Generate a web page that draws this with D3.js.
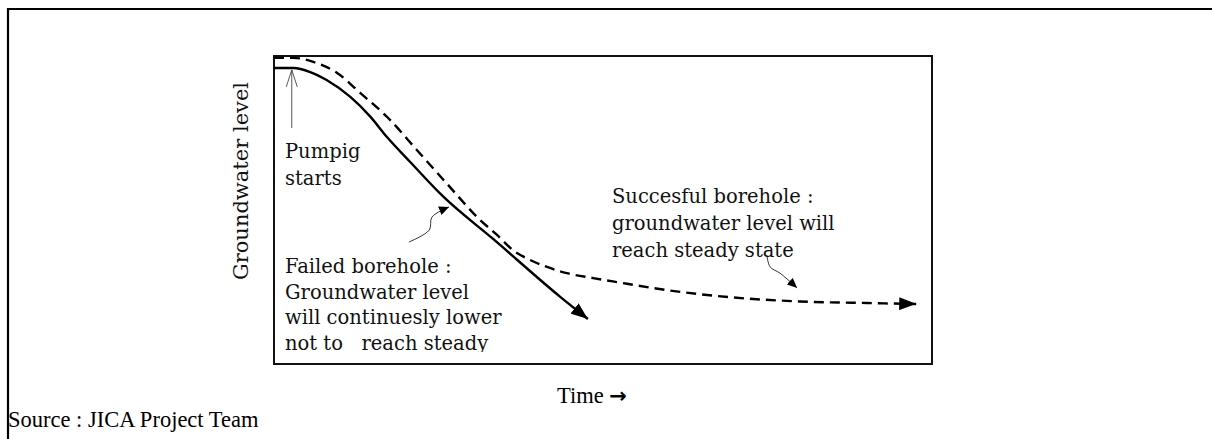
<!DOCTYPE html>
<meta charset="utf-8">
<style>
body { margin: 0; background: #fff; }
.lbl { font-family: "DejaVu Serif", serif; font-size: 19.5px; fill: #111; }
.src { font-family: "Liberation Serif", serif; font-size: 22.5px; fill: #000; }
</style>
<body>
<script src="https://d3js.org/d3.v7.min.js"></script>
<script>
// failed borehole (solid) : time vs groundwater level
var solidTime  = [0, 3, 5.5, 8, 11.6, 14.6, 17.2, 20.7, 25.7, 33.3, 43.5, 47.7];
var solidLevel = [96.1, 96.1, 94.8, 92.2, 86.7, 80.4, 73.6, 65.6, 54.4, 40.6, 21.8, 14.6];

// succesful borehole (dashed)
var dashTime  = [0, 2.9, 6.5, 9.6, 13.1, 17.2, 21.7, 26.3, 31.3, 33.9, 36.3, 38.9, 41.5, 44.5, 48.5, 52.1, 59.7, 69.8, 79.9, 90.1, 97.6];
var dashLevel = [99.4, 99.4, 97.7, 94.5, 88.0, 80.2, 69.5, 58.5, 46.8, 41.9, 37.0, 33.8, 31.5, 29.5, 27.9, 26.6, 24.0, 21.6, 20.3, 19.8, 19.5];

// small curly pointers for the two notes
var failPtrTime  = [20.5, 23.6, 24.0, 26.6];
var failPtrLevel = [39.6, 43.5, 47.7, 51.0];
var okPtrTime  = [74.9, 75.4, 76.9, 79.5];
var okPtrLevel = [35.4, 31.5, 29.5, 24.7];

// pumping starts marker
var pumpTime = [2.7, 2.7];
var pumpLevel = [76.6, 95.5];

var failNote = ["Failed borehole :", "Groundwater level", "will continuesly lower", "not to   reach steady"];
var okNote = ["Succesful borehole :", "groundwater level will", "reach steady state"];
var pumpNote = ["Pumpig", "starts"];

var W = 1212, H = 439;
var box = {left: 274, top: 56, right: 932, bottom: 364};

var x = d3.scaleLinear().domain([0, 100]).range([box.left, box.right]);
var y = d3.scaleLinear().domain([0, 100]).range([box.bottom, box.top]);

var svg = d3.select("body").append("svg")
    .attr("width", W).attr("height", H);

var defs = svg.append("defs");
function head(id, len, wid) {
  defs.append("marker")
    .attr("id", id)
    .attr("markerUnits", "userSpaceOnUse")
    .attr("viewBox", "0 0 " + len + " " + wid)
    .attr("refX", len).attr("refY", wid / 2)
    .attr("markerWidth", len).attr("markerHeight", wid)
    .attr("orient", "auto")
    .append("path")
    .attr("d", "M0,0L" + len + "," + (wid / 2) + "L0," + wid + "Z")
    .attr("fill", "#000");
}
head("big", 17, 13);
head("small", 10, 9);

defs.append("marker")
  .attr("id", "open")
  .attr("markerUnits", "userSpaceOnUse")
  .attr("viewBox", "0 0 18 14")
  .attr("refX", 17).attr("refY", 7)
  .attr("markerWidth", 18).attr("markerHeight", 14)
  .attr("orient", "auto")
  .append("path")
  .attr("d", "M0,1.5L17,7L0,12.5")
  .attr("fill", "none").attr("stroke", "#444").attr("stroke-width", 0.9);

defs.append("clipPath").attr("id", "noteclip")
  .append("rect").attr("x", 0).attr("y", 0).attr("width", W).attr("height", 352);

// outer frame (top and left only visible)
svg.append("path")
  .attr("d", "M8," + H + "V9H" + W)
  .attr("fill", "none").attr("stroke", "#000").attr("stroke-width", 2.2);

// plot box
svg.append("rect")
  .attr("x", box.left).attr("y", box.top)
  .attr("width", box.right - box.left).attr("height", box.bottom - box.top)
  .attr("fill", "none").attr("stroke", "#111").attr("stroke-width", 2);

function zip(a, b) { return a.map(function(v, i) { return [v, b[i]]; }); }

var line = d3.line()
  .x(function(d) { return x(d[0]); })
  .y(function(d) { return y(d[1]); })
  .curve(d3.curveMonotoneX);

var curly = d3.line()
  .x(function(d) { return x(d[0]); })
  .y(function(d) { return y(d[1]); })
  .curve(d3.curveCatmullRom.alpha(0.5));

svg.append("path")
  .datum(zip(dashTime, dashLevel))
  .attr("d", line)
  .attr("fill", "none").attr("stroke", "#000")
  .attr("stroke-width", 2.4).attr("stroke-dasharray", "10,6")
  .attr("marker-end", "url(#big)");

svg.append("path")
  .datum(zip(solidTime, solidLevel))
  .attr("d", line)
  .attr("fill", "none").attr("stroke", "#000")
  .attr("stroke-width", 2.4)
  .attr("marker-end", "url(#big)");

// pointers
[[failPtrTime, failPtrLevel], [okPtrTime, okPtrLevel]].forEach(function(p) {
  svg.append("path")
    .datum(zip(p[0], p[1]))
    .attr("d", curly)
    .attr("fill", "none").attr("stroke", "#000").attr("stroke-width", 0.8)
    .attr("marker-end", "url(#small)");
});

svg.append("path")
  .datum(zip(pumpTime, pumpLevel))
  .attr("d", d3.line().x(function(d) { return x(d[0]); }).y(function(d) { return y(d[1]); }))
  .attr("stroke", "#444").attr("stroke-width", 0.9)
  .attr("marker-end", "url(#open)");

// notes
function note(lines, px, py, gap, clip) {
  var t = svg.append("text").attr("class", "lbl");
  if (clip) t.attr("clip-path", "url(#noteclip)");
  lines.forEach(function(s, i) {
    t.append("tspan").attr("x", px).attr("y", py + i * gap)
      .style("white-space", "pre").text(s);
  });
}
note(pumpNote, 285, 158, 27);
note(failNote, 285, 273, 25.7, true);
note(okNote, 612, 203, 27);

// axis titles
svg.append("text").attr("class", "lbl")
  .style("font-size", "21px")
  .attr("transform", "translate(248,181) rotate(-90)")
  .attr("text-anchor", "middle")
  .text("Groundwater level");

var tt = svg.append("text").attr("class", "src")
  .attr("x", 557).attr("y", 403);
tt.append("tspan").text("Time ");
tt.append("tspan")
  .style("font-family", "DejaVu Sans").style("font-weight", "bold").style("font-size", "21px")
  .text("\u2192");

svg.append("text").attr("class", "src")
  .attr("x", 8).attr("y", 427)
  .text("Source : JICA Project Team");
</script>
</body>
